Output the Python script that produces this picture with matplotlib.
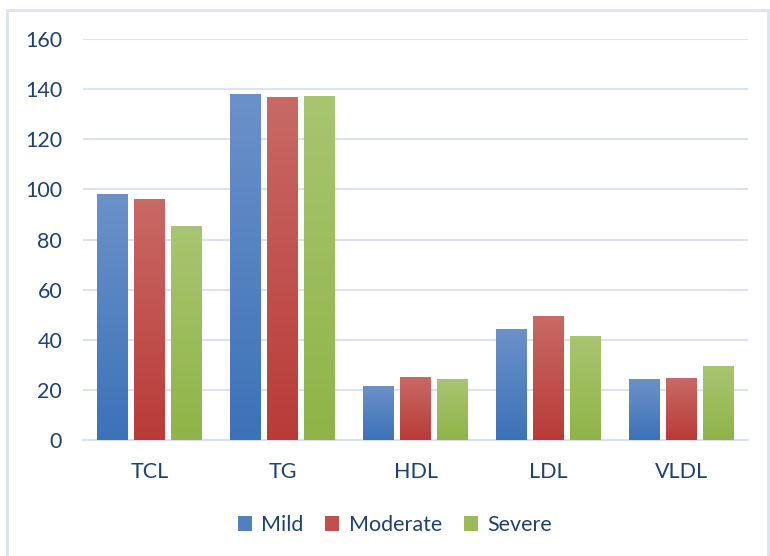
import numpy as np
import matplotlib
matplotlib.use("Agg")
import matplotlib.pyplot as plt
from matplotlib.patches import Rectangle, Patch
from matplotlib.colors import LinearSegmentedColormap

categories = ["TCL", "TG", "HDL", "LDL", "VLDL"]
series_names = ["Mild", "Moderate", "Severe"]
mild = [98, 138, 21.5, 44.3, 24.3]
moderate = [96.2, 137, 25.1, 49.5, 24.7]
severe = [85.4, 137.3, 24.3, 41.5, 29.5]
yticks = [0, 20, 40, 60, 80, 100, 120, 140, 160]

# (top colour, bottom colour) for each series gradient
gradients = [("#6C91C9", "#3C72B8"), ("#C86A66", "#B93B38"), ("#A9C571", "#90B447")]
legend_colors = ["#4F81BD", "#C0504D", "#9BBB59"]

text_color = "#1F4272"
grid_color = "#D9E3F1"

plt.rcParams["font.family"] = ["Lato", "DejaVu Sans"]

W, H = 770, 556
fig = plt.figure(figsize=(W / 100, H / 100), dpi=100)
ax = fig.add_axes([83 / W, 1 - 440 / H, (748 - 83) / W, (440 - 39) / H])

# chart frame
fig.patches.append(Rectangle((7 / W, -0.01), (768 - 7) / W, 1 - 10 / H + 0.01,
                             transform=fig.transFigure, fill=False,
                             edgecolor=grid_color, linewidth=2))

x = np.arange(len(categories))
width = 0.233
step = 0.278
data = [mild, moderate, severe]

for i, (vals, (ctop, cbot)) in enumerate(zip(data, gradients)):
    bars = ax.bar(x + (i - 1) * step, vals, width, color="none", edgecolor="none", zorder=3)
    cmap = LinearSegmentedColormap.from_list(f"g{i}", [cbot, ctop])
    grad = np.linspace(0, 1, 256).reshape(-1, 1)
    for b in bars:
        x0, y0 = b.get_x(), b.get_y()
        w, h = b.get_width(), b.get_height()
        im = ax.imshow(grad, cmap=cmap, origin="lower", aspect="auto",
                       extent=[x0, x0 + w, y0, y0 + h], zorder=3)
        im.set_clip_path(b)

ax.set_xlim(-0.5, len(categories) - 0.5)
ax.set_ylim(0, 160)
ax.set_yticks(yticks)
ax.set_xticks(x)
ax.set_xticklabels(categories)
ax.yaxis.grid(True, color=grid_color, linewidth=1.5, zorder=0)
ax.set_axisbelow(True)
for s in ["top", "right", "left"]:
    ax.spines[s].set_visible(False)
ax.spines["bottom"].set_color(grid_color)
ax.spines["bottom"].set_linewidth(1.5)
ax.tick_params(axis="both", length=0, labelsize=15.5, colors=text_color)
ax.tick_params(axis="y", pad=15)
ax.tick_params(axis="x", pad=16)

handles = [Patch(facecolor=c, edgecolor="none") for c in legend_colors]
leg = fig.legend(handles, series_names, loc="center", bbox_to_anchor=(0.513, 1 - 525 / H),
                 ncol=3, frameon=False, fontsize=15.5, handlelength=0.65, handleheight=0.65,
                 handletextpad=0.45, columnspacing=1.0)
for t in leg.get_texts():
    t.set_color(text_color)

fig.savefig("out.png", dpi=100)
